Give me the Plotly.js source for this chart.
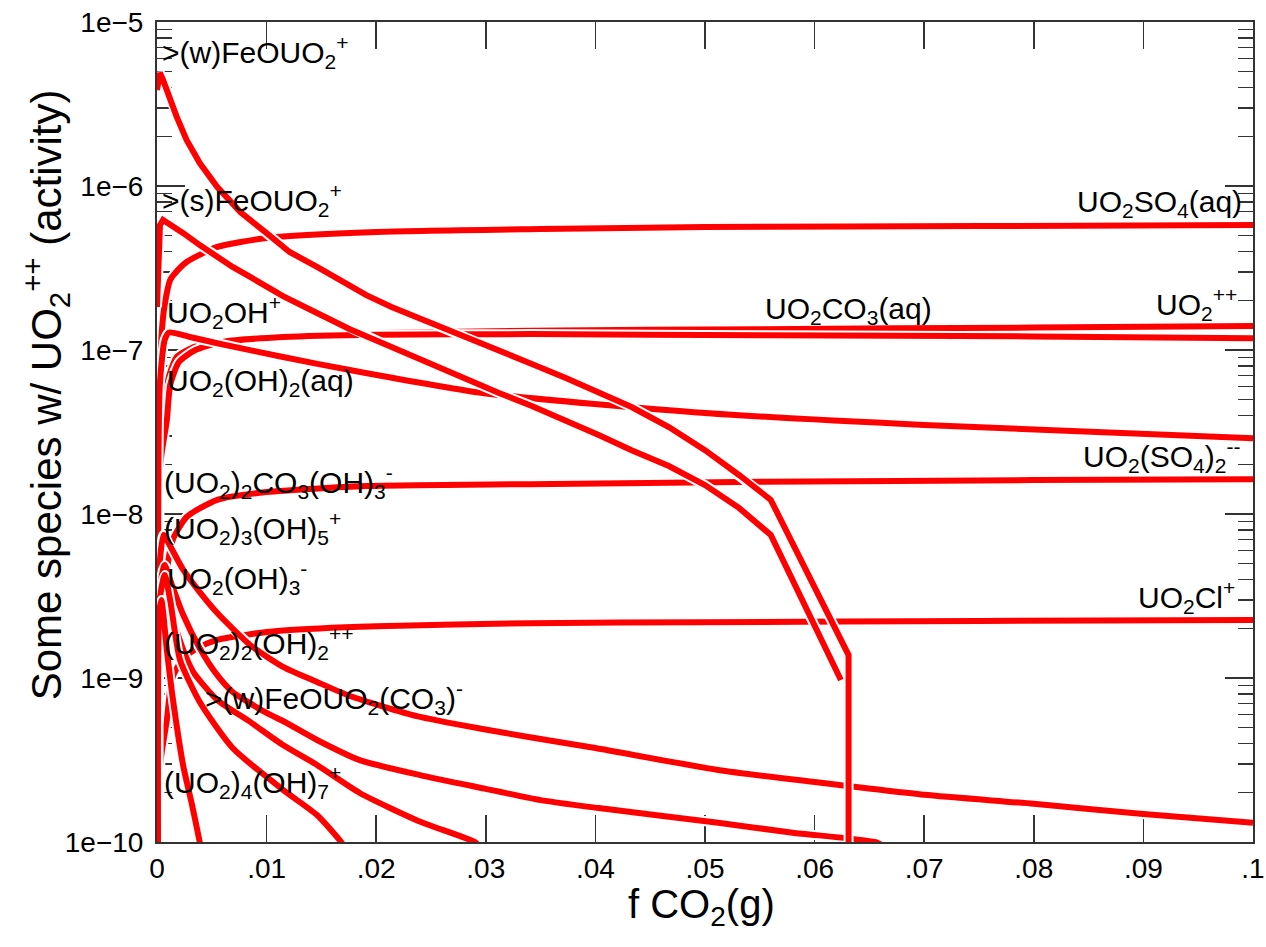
<!DOCTYPE html>
<html><head><meta charset="utf-8">
<script src="https://cdn.plot.ly/plotly-3.0.1.min.js"></script>
<style>html,body{margin:0;padding:0;background:#fff}#chart{width:1266px;height:947px}</style>
</head><body><div id="chart"></div>
<script>
// ---- data ----
const xSO4 = [0.00015, 0.00025, 0.00045, 0.0007, 0.0012, 0.0015, 0.0027, 0.0055, 0.01, 0.02, 0.035, 0.05, 0.075, 0.1];
const ySO4 = [5e-11, 6e-8, 1.32e-7, 1.88e-7, 2.67e-7, 2.86e-7, 3.44e-7, 4.25e-7, 4.82e-7, 5.25e-7, 5.47e-7, 5.62e-7, 5.70e-7, 5.78e-7];

const xUO2 = [0.00015, 0.00025, 0.0008, 0.001, 0.0018, 0.0033, 0.0055, 0.0115, 0.0206, 0.034, 0.055, 0.08, 0.1];
const yUO2 = [5e-11, 2.5e-8, 4.95e-8, 6.56e-8, 9.06e-8, 1.04e-7, 1.13e-7, 1.22e-7, 1.27e-7, 1.31e-7, 1.34e-7, 1.37e-7, 1.40e-7];

const xCO3 = [0.00015, 0.0003, 0.0009, 0.0012, 0.002, 0.0035, 0.006, 0.0115, 0.02, 0.034, 0.055, 0.08, 0.1];
const yCO3 = [5e-11, 2e-8, 3.74e-8, 6.12e-8, 8.45e-8, 1.0e-7, 1.12e-7, 1.20e-7, 1.24e-7, 1.25e-7, 1.23e-7, 1.21e-7, 1.18e-7];

const xSO4b = [0.00015, 0.00025, 0.0009, 0.0012, 0.0015, 0.0027, 0.0055, 0.01, 0.0191, 0.034, 0.055, 0.08, 0.1];
const ySO4b = [5e-11, 2.5e-9, 4.56e-9, 6.03e-9, 7.14e-9, 9.59e-9, 1.22e-8, 1.36e-8, 1.48e-8, 1.52e-8, 1.57e-8, 1.61e-8, 1.63e-8];

const xCl = [0.00015, 0.0003, 0.0009, 0.0012, 0.0015, 0.0024, 0.0039, 0.0055, 0.0085, 0.0115, 0.02, 0.034, 0.05, 0.075, 0.1];
const yCl = [5e-11, 3e-10, 5.55e-10, 8.46e-10, 1.04e-9, 1.32e-9, 1.55e-9, 1.71e-9, 1.85e-9, 1.95e-9, 2.07e-9, 2.16e-9, 2.19e-9, 2.23e-9, 2.26e-9];

const xOH1 = [0.00015, 0.00025, 0.0007, 0.0011, 0.003, 0.0055, 0.0115, 0.0176, 0.0297, 0.05, 0.07, 0.1];
const yOH1 = [5e-11, 6e-8, 1.15e-7, 1.28e-7, 1.20e-7, 1.10e-7, 9.06e-8, 7.55e-8, 5.47e-8, 4.13e-8, 3.49e-8, 2.90e-8];

const xC1 = [0.00015, 0.00025, 0.0006, 0.0012, 0.0024, 0.0039, 0.0055, 0.0085, 0.0115, 0.0146, 0.0176, 0.0237, 0.0297, 0.0339, 0.04, 0.0512, 0.06, 0.07, 0.08, 0.09, 0.1];
const yC1 = [5e-11, 5e-9, 7.45e-9, 6.38e-9, 4.56e-9, 3.34e-9, 2.49e-9, 1.59e-9, 1.17e-9, 9.46e-10, 7.77e-10, 5.86e-10, 4.89e-10, 4.37e-10, 3.74e-10, 2.75e-10, 2.32e-10, 1.94e-10, 1.71e-10, 1.48e-10, 1.31e-10];

const xC2 = [0.00015, 0.00025, 0.0007, 0.0012, 0.0024, 0.0039, 0.0055, 0.0069, 0.01, 0.0115, 0.0146, 0.0185, 0.024, 0.03, 0.035, 0.0403, 0.0512, 0.058, 0.0655, 0.0665];
const yC2 = [5e-11, 3.5e-9, 4.89e-9, 3.96e-9, 2.42e-9, 1.52e-9, 1.04e-9, 8.22e-10, 6.12e-10, 5.47e-10, 4.19e-10, 3.16e-10, 2.56e-10, 2.11e-10, 1.80e-10, 1.61e-10, 1.31e-10, 1.14e-10, 1.0e-10, 9.3e-11];

const xC3 = [0.00015, 0.00025, 0.0007, 0.0012, 0.0024, 0.0033, 0.0055, 0.0085, 0.0115, 0.0146, 0.0185, 0.0239, 0.029, 0.0295];
const yC3 = [5e-11, 2.5e-9, 3.44e-9, 2.60e-9, 1.48e-9, 1.09e-9, 7.35e-10, 5.40e-10, 3.90e-10, 2.95e-10, 1.99e-10, 1.34e-10, 1.0e-10, 9.3e-11];

const xD2 = [0.00015, 0.00025, 0.0007, 0.0012, 0.0021, 0.0039, 0.0069, 0.0115, 0.0146, 0.0168, 0.0172];
const yD2 = [5e-11, 3e-9, 4.25e-9, 2.99e-9, 1.29e-9, 7.14e-10, 3.74e-10, 2.08e-10, 1.46e-10, 1.0e-10, 9e-11];

const xD1 = [0.0001, 0.0002, 0.0004, 0.0009, 0.0014, 0.0024, 0.0032, 0.0039, 0.0041];
const yD1 = [5e-11, 2.5e-9, 2.99e-9, 1.48e-9, 7.88e-10, 2.9e-10, 1.68e-10, 1.0e-10, 8.5e-11];

const xS = [0, 0.00027, 0.00055, 0.0012, 0.0018, 0.0024, 0.0039, 0.0055, 0.0069, 0.0085, 0.0115, 0.0146, 0.0176, 0.0206, 0.0237, 0.0267, 0.0312, 0.0342, 0.0373, 0.0403, 0.0433, 0.0467, 0.05, 0.0531, 0.056, 0.0624];
const yS = [1.83e-7, 5.78e-7, 6.21e-7, 5.86e-7, 5.54e-7, 5.16e-7, 4.36e-7, 3.69e-7, 3.21e-7, 2.79e-7, 2.13e-7, 1.68e-7, 1.34e-7, 1.10e-7, 8.93e-8, 7.24e-8, 5.47e-8, 4.56e-8, 3.74e-8, 3.03e-8, 2.45e-8, 1.96e-8, 1.50e-8, 1.09e-8, 7.45e-9, 9.73e-10];

const xW = [0, 0.00027, 0.00055, 0.0012, 0.0018, 0.0027, 0.0039, 0.0055, 0.0076, 0.01, 0.0121, 0.0146, 0.0167, 0.0191, 0.0214, 0.0239, 0.0276, 0.0312, 0.0342, 0.0373, 0.0403, 0.0433, 0.0467, 0.05, 0.0531, 0.056, 0.0631, 0.0631];
const yW = [3.85e-6, 4.89e-6, 4.43e-6, 3.34e-6, 2.64e-6, 1.91e-6, 1.38e-6, 9.86e-7, 6.93e-7, 5.16e-7, 3.96e-7, 3.21e-7, 2.64e-7, 2.16e-7, 1.83e-7, 1.57e-7, 1.25e-7, 1.0e-7, 8.22e-8, 6.74e-8, 5.55e-8, 4.49e-8, 3.39e-8, 2.45e-8, 1.73e-8, 1.22e-8, 1.38e-9, 5e-11];

const xTickVals = [0, 0.01, 0.02, 0.03, 0.04, 0.05, 0.06, 0.07, 0.08, 0.09, 0.1];
const xTickText = ['0', '.01', '.02', '.03', '.04', '.05', '.06', '.07', '.08', '.09', '.1'];
const yTickVals = [1e-10, 1e-9, 1e-8, 1e-7, 1e-6, 1e-5];
const yTickText = ['1e\u221210', '1e\u22129', '1e\u22128', '1e\u22127', '1e\u22126', '1e\u22125'];

const xTitle = 'f CO<sub>2</sub>(g)';
const yTitle = 'Some species w/ UO<sub>2</sub><sup>++</sup> (activity)';

const labels = [
  '>(w)FeOUO<sub>2</sub><sup>+</sup>',
  '>(s)FeOUO<sub>2</sub><sup>+</sup>',
  'UO<sub>2</sub>OH<sup>+</sup>',
  'UO<sub>2</sub>(OH)<sub>2</sub>(aq)',
  '(UO<sub>2</sub>)<sub>2</sub>CO<sub>3</sub>(OH)<sub>3</sub><sup>-</sup>',
  '(UO<sub>2</sub>)<sub>3</sub>(OH)<sub>5</sub><sup>+</sup>',
  'UO<sub>2</sub>(OH)<sub>3</sub><sup>-</sup>',
  '(UO<sub>2</sub>)<sub>2</sub>(OH)<sub>2</sub><sup>++</sup>',
  '>(w)FeOUO<sub>2</sub>(CO<sub>3</sub>)<sup>-</sup>',
  '(UO<sub>2</sub>)<sub>4</sub>(OH)<sub>7</sub><sup>+</sup>',
  'UO<sub>2</sub>SO<sub>4</sub>(aq)',
  'UO<sub>2</sub>CO<sub>3</sub>(aq)',
  'UO<sub>2</sub><sup>++</sup>',
  'UO<sub>2</sub>(SO<sub>4</sub>)<sub>2</sub><sup>--</sup>',
  'UO<sub>2</sub>Cl<sup>+</sup>'
];

// ---- layout / style ----
const labelPos = [
  [0.0003, -5.183, 'left'], [0.0003, -6.085, 'left'], [0.0007, -6.768, 'left'],
  [0.0007, -7.201, 'left'], [0.0005, -7.805, 'left'], [0.0005, -8.085, 'left'],
  [0.0007, -8.390, 'left'], [0.0005, -8.787, 'left'], [0.0042, -9.122, 'left'],
  [0.0005, -9.634, 'left'], [0.0992, -6.104, 'right'], [0.0553, -6.762, 'left'],
  [0.0987, -6.720, 'right'], [0.099, -7.646, 'right'], [0.0985, -8.506, 'right']
];

const series = [
  [xSO4, ySO4, 'spline'], [xUO2, yUO2, 'spline'], [xCO3, yCO3, 'spline'],
  [xSO4b, ySO4b, 'spline'], [xCl, yCl, 'spline'],
  [xOH1, yOH1, 'spline'], [xC1, yC1, 'spline'], [xC2, yC2, 'spline'],
  [xC3, yC3, 'spline'], [xD2, yD2, 'spline'], [xD1, yD1, 'spline'],
  [xS, yS, 'linear'], [xW, yW, 'linear']
];

const traces = [];
series.forEach(s => {
  traces.push({x: s[0], y: s[1], type: 'scatter', mode: 'lines', hoverinfo: 'skip',
    line: {color: '#ffffff', width: 10, shape: s[2], smoothing: 0.6}});
  traces.push({x: s[0], y: s[1], type: 'scatter', mode: 'lines',
    line: {color: '#ff0000', width: 6, shape: s[2], smoothing: 0.6}});
});

const minorVals = [];
for (let e = -10; e < -5; e++) for (let d = 2; d <= 9; d++) minorVals.push(d * Math.pow(10, e));

const font = 'Liberation Sans, Arial, sans-serif';
const axisCommon = {
  showline: true, linecolor: '#333', linewidth: 2, mirror: 'allticks',
  ticks: 'inside', tickcolor: '#333', tickwidth: 1.5, showgrid: false, zeroline: false,
  layer: 'below traces', ticklabeloverflow: 'allow',
  tickfont: {family: font, size: 28, color: '#000'}
};

const annots = labels.map((t, i) => ({
  text: t, x: labelPos[i][0], y: labelPos[i][1], xref: 'x', yref: 'y',
  xanchor: labelPos[i][2], yanchor: 'middle', showarrow: false,
  font: {family: font, size: 30, color: '#000'}
}));
annots.push({text: xTitle, xref: 'paper', yref: 'paper', x: 0.497, y: -0.079,
  xanchor: 'center', yanchor: 'middle', showarrow: false,
  font: {family: font, size: 40, color: '#000'}});
annots.push({text: yTitle, xref: 'paper', yref: 'paper', x: -0.102, y: 0.545,
  xanchor: 'center', yanchor: 'middle', textangle: -90, showarrow: false,
  font: {family: font, size: 42, color: '#000'}});

const layout = {
  width: 1266, height: 947,
  margin: {l: 157, r: 13, t: 22, b: 105},
  paper_bgcolor: '#fff', plot_bgcolor: '#fff', showlegend: false,
  xaxis: Object.assign({}, axisCommon, {
    range: [0, 0.1], tickmode: 'array', tickvals: xTickVals, ticktext: xTickText,
    ticklen: 27, ticklabelstandoff: 0
  }),
  yaxis: Object.assign({}, axisCommon, {
    type: 'log', range: [-10, -5], tickmode: 'array', tickvals: yTickVals, ticktext: yTickText,
    ticklen: 28, ticklabelstandoff: 6,
    minor: {ticks: 'inside', ticklen: 15, tickwidth: 1.5, tickcolor: '#333', tickmode: 'array', tickvals: minorVals, showgrid: false}
  }),
  annotations: annots
};

Plotly.newPlot('chart', traces, layout, {displayModeBar: false, staticPlot: true});
</script>
</body></html>
